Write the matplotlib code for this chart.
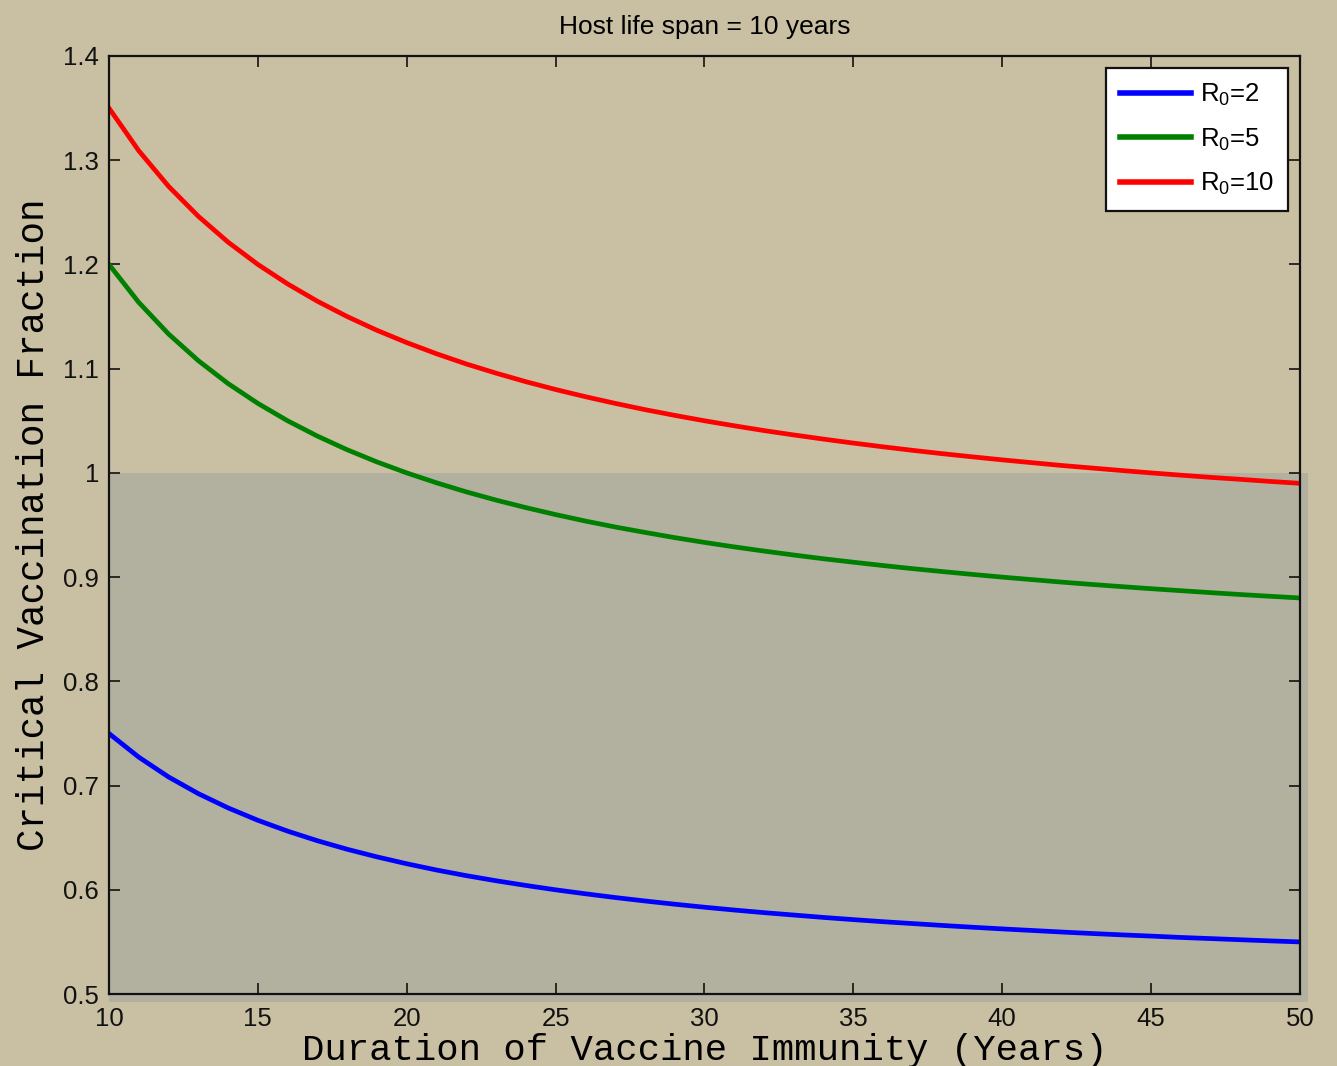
import numpy as np
import matplotlib
matplotlib.use("Agg")
import matplotlib.pyplot as plt
from matplotlib.patches import Rectangle

# duration of vaccine immunity (years)
duration = list(range(10, 51))

# critical vaccination fraction for each R0, one value per year
pc_r2 = [0.7500, 0.7273, 0.7083, 0.6923, 0.6786, 0.6667, 0.6563, 0.6471, 0.6389, 0.6316,
         0.6250, 0.6190, 0.6136, 0.6087, 0.6042, 0.6000, 0.5962, 0.5926, 0.5893, 0.5862,
         0.5833, 0.5806, 0.5781, 0.5758, 0.5735, 0.5714, 0.5694, 0.5676, 0.5658, 0.5641,
         0.5625, 0.5610, 0.5595, 0.5581, 0.5568, 0.5556, 0.5543, 0.5532, 0.5521, 0.5510,
         0.5500]
pc_r5 = [1.2000, 1.1636, 1.1333, 1.1077, 1.0857, 1.0667, 1.0500, 1.0353, 1.0222, 1.0105,
         1.0000, 0.9905, 0.9818, 0.9739, 0.9667, 0.9600, 0.9538, 0.9481, 0.9429, 0.9379,
         0.9333, 0.9290, 0.9250, 0.9212, 0.9176, 0.9143, 0.9111, 0.9081, 0.9053, 0.9026,
         0.9000, 0.8976, 0.8952, 0.8930, 0.8909, 0.8889, 0.8870, 0.8851, 0.8833, 0.8816,
         0.8800]
pc_r10 = [1.3500, 1.3091, 1.2750, 1.2462, 1.2214, 1.2000, 1.1813, 1.1647, 1.1500, 1.1368,
          1.1250, 1.1143, 1.1045, 1.0957, 1.0875, 1.0800, 1.0731, 1.0667, 1.0607, 1.0552,
          1.0500, 1.0452, 1.0406, 1.0364, 1.0324, 1.0286, 1.0250, 1.0216, 1.0184, 1.0154,
          1.0125, 1.0098, 1.0071, 1.0047, 1.0023, 1.0000, 0.9978, 0.9957, 0.9938, 0.9918,
          0.9900]

labels = [r"$\mathregular{R_0}$=2", r"$\mathregular{R_0}$=5", r"$\mathregular{R_0}$=10"]
colors = ["#0000ff", "#008000", "#ff0000"]

x_ticks = [10, 15, 20, 25, 30, 35, 40, 45, 50]
y_ticks = [0.5, 0.6, 0.7, 0.8, 0.9, 1, 1.1, 1.2, 1.3, 1.4]
y_ticklabels = ["0.5", "0.6", "0.7", "0.8", "0.9", "1", "1.1", "1.2", "1.3", "1.4"]
threshold = 1.0

plt.rcParams["font.family"] = ["Liberation Sans", "DejaVu Sans"]
plt.rcParams["mathtext.fontset"] = "custom"
plt.rcParams["mathtext.rm"] = "Liberation Sans"

fig = plt.figure(figsize=(13.37, 10.66), dpi=100, facecolor="#c9bfa2")
ax = fig.add_axes([0.0815, 0.0675, 0.8908, 0.88])
ax.set_facecolor("none")

for y, lab, c in zip([pc_r2, pc_r5, pc_r10], labels, colors):
    ax.plot(duration, y, color=c, lw=3.4, label=lab)

ax.set_xlim(10, 50)
ax.set_ylim(0.5, 1.4)
ax.set_xticks(x_ticks)
ax.set_yticks(y_ticks)
ax.set_yticklabels(y_ticklabels)
ax.tick_params(direction="in", length=8, width=1.2, labelsize=18.5,
               top=True, right=True, colors="#111111")
ax.tick_params(axis="x", pad=9)
ax.tick_params(axis="y", pad=7)
for s in ax.spines.values():
    s.set_linewidth(1.6)
    s.set_color("#111111")

ax.set_title("Host life span = 10 years", fontsize=19, pad=16)
ax.set_xlabel("Duration of Vaccine Immunity (Years)", family="Liberation Mono",
              fontsize=26.8)
ax.xaxis.set_label_coords(0.5, -0.041)
ax.set_ylabel("Critical Vaccination Fraction", family="Liberation Mono",
              fontsize=27, labelpad=8)

leg = ax.legend(loc="upper right", fontsize=18.5, handlelength=2.75,
                fancybox=False, framealpha=1, edgecolor="#111111",
                borderaxespad=0.45, labelspacing=0.72, handletextpad=0.35,
                borderpad=0.55)
leg.get_frame().set_linewidth(1.6)
for h in leg.legend_handles:
    h.set_linewidth(4)

# grey band below the threshold, slightly overhanging the axes
fig.canvas.draw()
x0, y1 = fig.transFigure.inverted().transform(ax.transData.transform((10, threshold)))
x1, y0 = fig.transFigure.inverted().transform(ax.transData.transform((50, 0.5)))
ox = 8 / fig.bbox.width
oy = 8 / fig.bbox.height
band = Rectangle((x0, y0 - oy), x1 - x0 + ox, y1 - y0 + oy,
                 transform=fig.transFigure, facecolor="#b2b1a0",
                 edgecolor="none", zorder=-1)
fig.patches.append(band)

fig.savefig("out.png", dpi=100, facecolor=fig.get_facecolor())
